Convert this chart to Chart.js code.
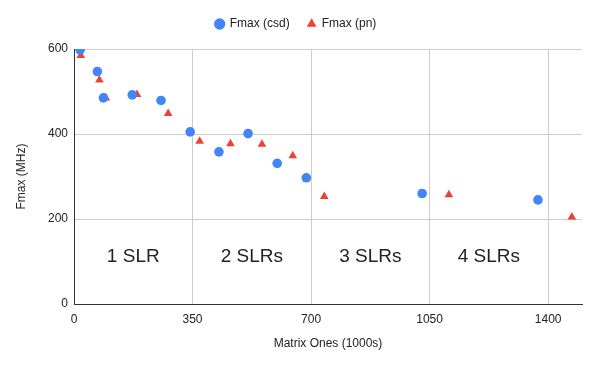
<!DOCTYPE html>
<html>
<head>
<meta charset="utf-8">
<script src="https://cdn.jsdelivr.net/npm/chart.js@4.4.1/dist/chart.umd.min.js"></script>
<style>
  body { margin: 0; background: #fff; }
  #wrap { width: 600px; height: 384px; }
</style>
</head>
<body>
<div id="wrap"><canvas id="chart"></canvas></div>
<script>
// Fmax (csd) points
const csdX = [18, 69, 87, 172, 257, 343, 428, 514, 600, 686, 1028, 1370];
const csdY = [598, 547, 485, 492, 479, 405, 358, 401, 331, 297, 260, 245];
// Fmax (pn) points
const pnX = [20, 75, 94, 186, 278, 371, 462, 555, 646, 739, 1107, 1470];
const pnY = [585, 527, 485, 493, 448, 383, 377, 376, 349, 253, 257, 205];

const xTicks = [0, 350, 700, 1050, 1400];
const yTicks = [0, 200, 400, 600];

const regionLabels = ["1 SLR", "2 SLRs", "3 SLRs", "4 SLRs"];
const regionCenters = [175, 525, 875, 1225];
const regionY = 110;

const font = "'Liberation Sans', Arial, sans-serif";

const toPoints = (xs, ys) => xs.map((x, i) => ({ x: x, y: ys[i] }));

const regionPlugin = {
  id: "regions",
  afterDatasetsDraw(chart) {
    const { ctx, scales } = chart;
    ctx.save();
    ctx.font = "19px " + font;
    ctx.fillStyle = "#222";
    ctx.textAlign = "center";
    ctx.textBaseline = "middle";
    regionLabels.forEach((t, i) => {
      ctx.fillText(t, scales.x.getPixelForValue(regionCenters[i]), scales.y.getPixelForValue(regionY));
    });
    ctx.restore();
  },
};

// a bit more room under the legend
const legendGap = {
  id: "legendGap",
  beforeInit(chart) {
    const fit = chart.legend.fit;
    chart.legend.fit = function () {
      fit.bind(chart.legend)();
      this.height += 9;
    };
  },
};

new Chart(document.getElementById("chart"), {
  type: "scatter",
  data: {
    datasets: [
      {
        label: "Fmax (csd)",
        data: toPoints(csdX, csdY),
        pointStyle: "circle",
        backgroundColor: "#4285F4",
        borderColor: "#4285F4",
        pointRadius: 4.8,
        borderWidth: 0,
      },
      {
        label: "Fmax (pn)",
        data: toPoints(pnX, pnY),
        pointStyle: "triangle",
        backgroundColor: "#EA4335",
        borderColor: "#EA4335",
        pointRadius: 5,
        borderWidth: 0,
      },
    ],
  },
  options: {
    responsive: true,
    maintainAspectRatio: false,
    animation: false,
    layout: { padding: { left: 10, right: 18, top: 0, bottom: 32 } },
    plugins: {
      legend: {
        display: true,
        position: "top",
        labels: {
          usePointStyle: true,
          boxWidth: 8,
          boxHeight: 8,
          padding: 18,
          color: "#222",
          font: { family: font, size: 12 },
        },
      },
      tooltip: { enabled: false },
    },
    scales: {
      x: {
        type: "linear",
        min: 0,
        max: 1500,
        afterFit: (s) => { s.height = 48; },
        afterBuildTicks: (s) => { s.ticks = xTicks.map((v) => ({ value: v })); },
        ticks: { padding: 8, color: "#222", font: { family: font, size: 12 }, callback: (v) => String(v) },
        grid: { color: "#cccccc", drawTicks: false },
        border: { color: "#333", width: 1 },
        title: {
          display: true,
          text: "Matrix Ones (1000s)",
          color: "#222",
          font: { family: font, size: 12 },
          padding: { top: 0, bottom: 1 },
        },
      },
      y: {
        type: "linear",
        min: 0,
        max: 600,
        afterFit: (s) => { s.width = 64; },
        afterBuildTicks: (s) => { s.ticks = yTicks.map((v) => ({ value: v })); },
        ticks: { padding: 6, color: "#222", font: { family: font, size: 12 }, callback: (v) => String(v) },
        grid: { color: "#cccccc", drawTicks: false },
        border: { color: "#333", width: 1 },
        title: {
          display: true,
          text: "Fmax (MHz)",
          color: "#222",
          font: { family: font, size: 12 },
          padding: { top: 4, bottom: 4 },
        },
      },
    },
  },
  plugins: [regionPlugin, legendGap],
});
</script>
</body>
</html>
